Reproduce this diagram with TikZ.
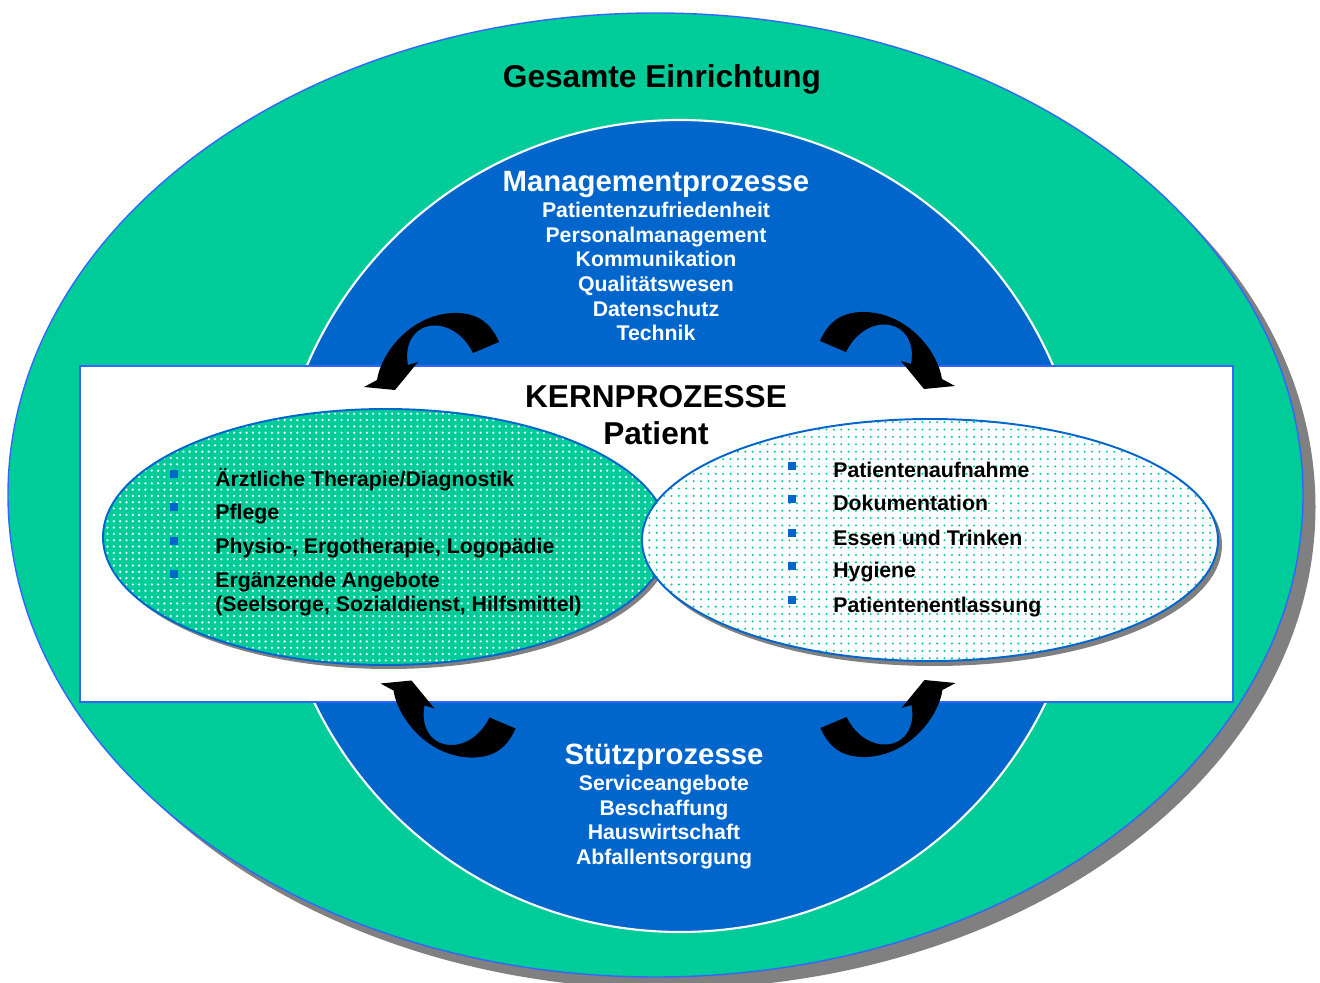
\documentclass[tikz,border=0pt]{standalone}
\usepackage{fontspec}
\setmainfont{Liberation Sans}
\usetikzlibrary{patterns.meta}
\definecolor{tealgreen}{HTML}{00CC99}
\definecolor{procblue}{HTML}{0066CC}
\definecolor{rimblue}{HTML}{3366FF}
\definecolor{shadowgray}{HTML}{808080}
\tikzset{%
  bigtitle/.style = {font=\bfseries\fontsize{18}{21}\selectfont,
        anchor=base, inner sep=0pt},
  heading/.style = {font=\bfseries\fontsize{16.7}{20}\selectfont,
        text=white, anchor=base, inner sep=0pt},
  subline/.style = {font=\bfseries\fontsize{12.1}{14}\selectfont,
        text=white, anchor=base, inner sep=0pt},
  listitem/.style = {font=\bfseries\fontsize{12.1}{14}\selectfont,
        anchor=base west, inner sep=0pt},
  bullet/.style = {rectangle, fill=procblue, inner sep=0pt,
        minimum size=4.4pt},
  bendarrow/.pic = {
    \fill[black] (67.5,-9.5) .. controls (58,-32) and (42,-39) .. (22,-38.5)
      .. controls (-20,-37) and (-50,0) .. (-54.5,28.5)
      -- (-67.5,35.5) -- (-36.5,38.5) -- (-13.5,10.5) -- (-23.5,13.5)
      .. controls (-28,-10) and (-15,-27) .. (5,-26)
      .. controls (22,-25) and (35,-12) .. (41.5,1.5) -- cycle;
  }
}

\begin{document}
\begin{tikzpicture}[x=0.02cm,y=-0.02cm]
   \useasboundingbox (0,0) rectangle (1320,983);

   % whole facility
   \fill[shadowgray] (668,507) ellipse [x radius=647.5, y radius=482];
   \filldraw[fill=tealgreen, draw=rimblue, line width=0.8pt]
      (655.5,495) ellipse [x radius=647.5, y radius=482];
   \node[bigtitle] (gesamt) at (662,88) {Gesamte Einrichtung};

   % process circle
   \filldraw[fill=procblue, draw=white, line width=1.2pt]
      (680,526) circle [radius=406];

   \node[heading] (mgmt) at (656,192) {Managementprozesse};
   \node[subline] (mgmt1) at (656,218) {Patientenzufriedenheit};
   \node[subline] (mgmt2) at (656,243) {Personalmanagement};
   \node[subline] (mgmt3) at (656,267) {Kommunikation};
   \node[subline] (mgmt4) at (656,292) {Qualitätswesen};
   \node[subline] (mgmt5) at (656,317) {Datenschutz};
   \node[subline] (mgmt6) at (656,341) {Technik};

   \node[heading] (stuetz) at (664,764) {Stützprozesse};
   \node[subline] (st1) at (664,790) {Serviceangebote};
   \node[subline] (st2) at (664,815) {Beschaffung};
   \node[subline] (st3) at (664,839) {Hauswirtschaft};
   \node[subline] (st4) at (664,864) {Abfallentsorgung};

   % core band
   \filldraw[fill=white, draw=rimblue, line width=1.2pt]
      (80,366) rectangle (1233,702);

   \pic at (431.5,351.5) {bendarrow};
   \pic[xscale=-1] at (887.5,350.5) {bendarrow};
   \pic[yscale=-1] at (448,719) {bendarrow};
   \pic[xscale=-1,yscale=-1] at (888,718.5) {bendarrow};

   \node[bigtitle] (kern) at (656,408) {KERNPROZESSE};
   \node[bigtitle] (patient) at (656,445) {Patient};

   % left core ellipse
   \fill[shadowgray] (389,541) ellipse [x radius=282.5, y radius=128];
   \fill[tealgreen] (385.5,537) ellipse [x radius=282.5, y radius=128];
   \fill[pattern={Dots[distance=3.6pt,radius=0.7pt]}, pattern color=white]
      (385.5,537) ellipse [x radius=282.5, y radius=128];
   \draw[procblue, line width=1.1pt]
      (385.5,537) ellipse [x radius=282.5, y radius=128];

   % right core ellipse
   \fill[shadowgray] (934,545) ellipse [x radius=288, y radius=121];
   \fill[white] (930,540) ellipse [x radius=288, y radius=121];
   \fill[pattern={Dots[distance=4.2pt,radius=0.65pt]}, pattern color=tealgreen]
      (930,540) ellipse [x radius=288, y radius=121];
   \draw[procblue, line width=1.1pt]
      (930,540) ellipse [x radius=288, y radius=121];

   \node[bullet] (lb1) at (174,474) {};
   \node[bullet] (lb2) at (174,507) {};
   \node[bullet] (lb3) at (174,541) {};
   \node[bullet] (lb4) at (174,574) {};
   \node[listitem] (l1) at (215,487) {Ärztliche Therapie/Diagnostik};
   \node[listitem] (l2) at (215,520) {Pflege};
   \node[listitem] (l3) at (215,554) {Physio-, Ergotherapie, Logopädie};
   \node[listitem] (l4) at (215,587) {Ergänzende Angebote};
   \node[listitem] (l5) at (215,611) {(Seelsorge, Sozialdienst, Hilfsmittel)};

   \node[bullet] (rb1) at (792,466) {};
   \node[bullet] (rb2) at (792,499) {};
   \node[bullet] (rb3) at (792,533) {};
   \node[bullet] (rb4) at (792,566) {};
   \node[bullet] (rb5) at (792,600) {};
   \node[listitem] (r1) at (833,478) {Patientenaufnahme};
   \node[listitem] (r2) at (833,511) {Dokumentation};
   \node[listitem] (r3) at (833,545) {Essen und Trinken};
   \node[listitem] (r4) at (833,578) {Hygiene};
   \node[listitem] (r5) at (833,612) {Patientenentlassung};
\end{tikzpicture}
\end{document}
